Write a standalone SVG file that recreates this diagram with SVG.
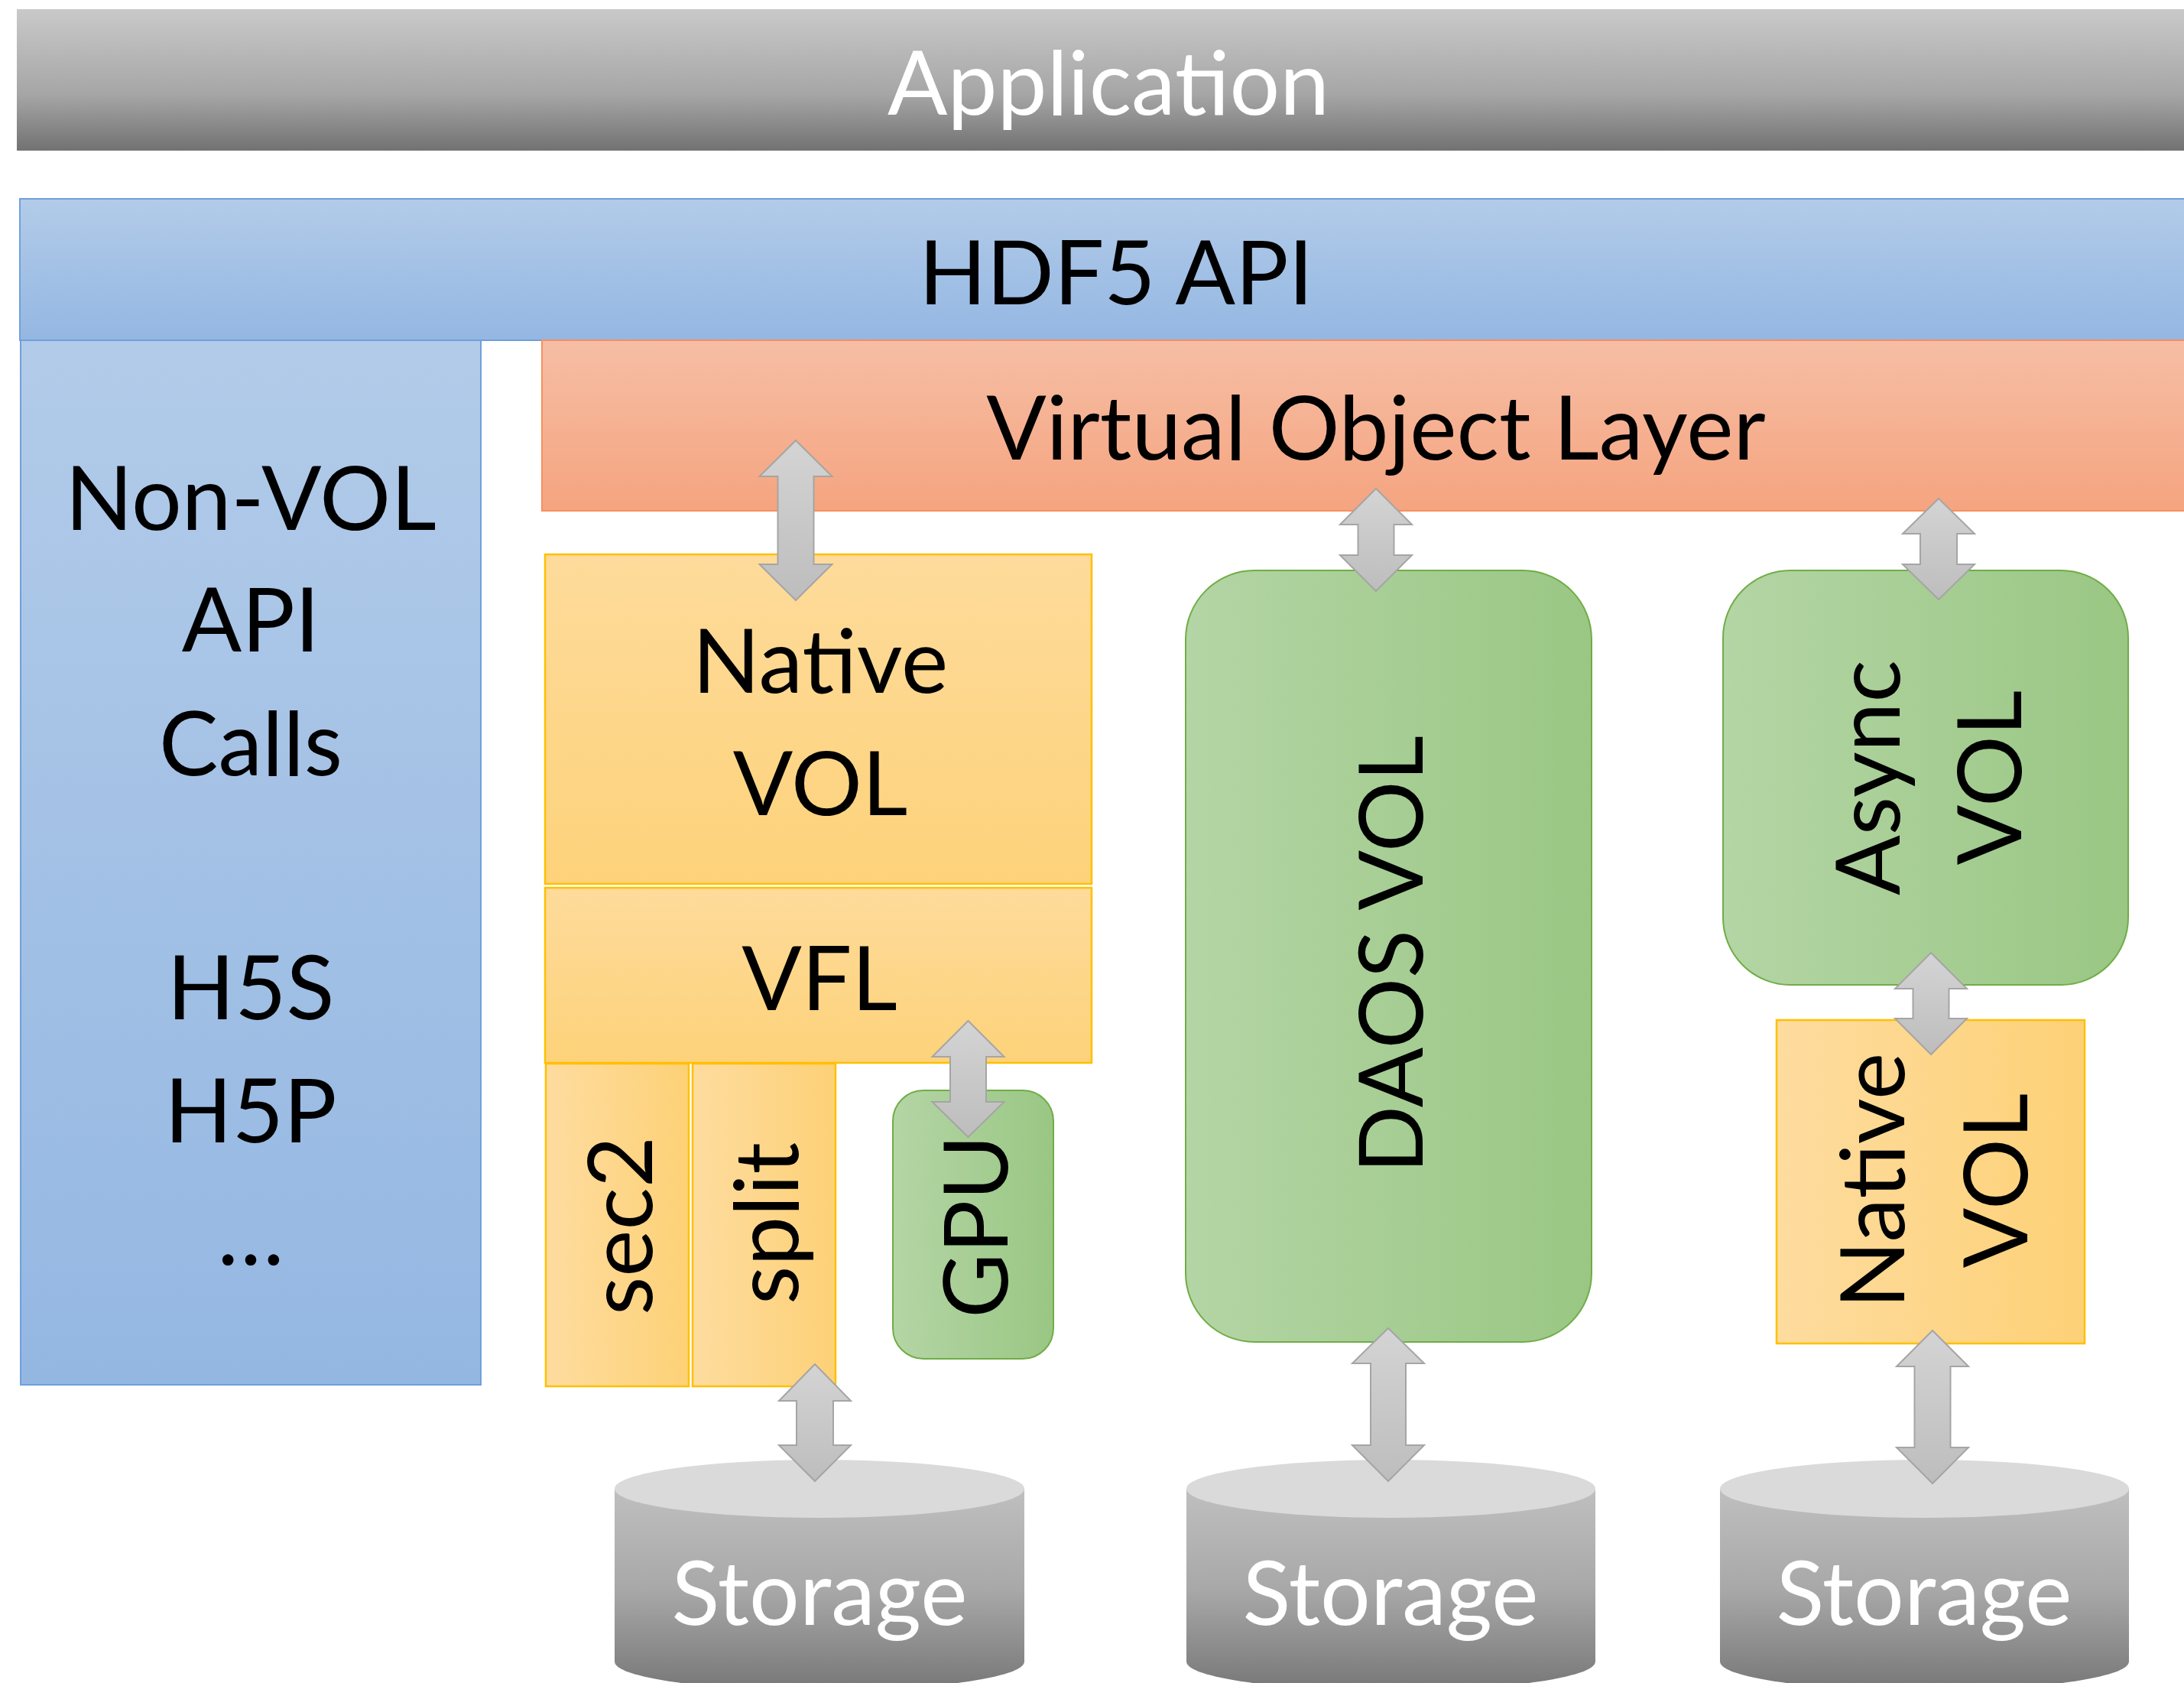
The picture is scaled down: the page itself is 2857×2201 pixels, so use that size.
<svg xmlns="http://www.w3.org/2000/svg" width="2857" height="2201" viewBox="0 0 2857 2201">
<defs>
<linearGradient id="gApp" x1="0" y1="0" x2="0" y2="1"><stop offset="0" stop-color="#c9c9c9"/><stop offset="0.6" stop-color="#a6a6a6"/><stop offset="1" stop-color="#727272"/></linearGradient>
<linearGradient id="gBlue" x1="0" y1="0" x2="0" y2="1"><stop offset="0" stop-color="#b2cbe9"/><stop offset="1" stop-color="#94b7e2"/></linearGradient>
<linearGradient id="gVol" x1="0" y1="0" x2="0" y2="1"><stop offset="0" stop-color="#f6bea5"/><stop offset="1" stop-color="#f5a47f"/></linearGradient>
<linearGradient id="gOrV" x1="0" y1="0" x2="0" y2="1"><stop offset="0" stop-color="#fedb9b"/><stop offset="1" stop-color="#fdd27a"/></linearGradient>
<linearGradient id="gOrH" x1="0" y1="0" x2="1" y2="0"><stop offset="0" stop-color="#fedc9f"/><stop offset="1" stop-color="#fdd177"/></linearGradient>
<linearGradient id="gGreen" x1="0" y1="0" x2="1" y2="0"><stop offset="0" stop-color="#b4d5a5"/><stop offset="1" stop-color="#9ac784"/></linearGradient>
<linearGradient id="gArrow" x1="0" y1="0" x2="0" y2="1"><stop offset="0" stop-color="#d4d4d4"/><stop offset="1" stop-color="#bdbdbd"/></linearGradient>
<linearGradient id="gStor" x1="0" y1="0" x2="0" y2="1"><stop offset="0" stop-color="#bfbfbf"/><stop offset="0.5" stop-color="#a8a8a8"/><stop offset="1" stop-color="#777777"/></linearGradient>
</defs>
<style>
text{font-family:Lato,"Liberation Sans",sans-serif;font-size:116px;fill:#000;text-anchor:middle}
.w{fill:#fff}
.blue{fill:url(#gBlue);stroke:#6fa0dc;stroke-width:2}
.orv{fill:url(#gOrV);stroke:#ffc000;stroke-width:2.5}
.orh{fill:url(#gOrH);stroke:#ffc000;stroke-width:2.5}
.green{fill:url(#gGreen);stroke:#70ad47;stroke-width:2}
.arrow{fill:url(#gArrow);stroke:#a5a5a5;stroke-width:2}
.stor{fill:url(#gStor)}
.stop{fill:#dadada}
</style>
<g id="application"><rect x="22" y="12" width="2840" height="185" fill="url(#gApp)"/><text class="w" x="1450" y="150" font-size="118">Application</text></g>
<g id="hdf5-api"><rect class="blue" x="26" y="260" width="2840" height="185"/><text x="1460" y="398">HDF5 API</text></g>
<g id="non-vol"><rect class="blue" x="27" y="445" width="602" height="1366"/>
<text x="328" y="693">Non-VOL</text><text x="328" y="852">API</text><text x="328" y="1014">Calls</text>
<text x="328" y="1333">H5S</text><text x="328" y="1494">H5P</text><text x="328" y="1654">…</text></g>
<g id="vol"><rect x="709" y="445" width="2160" height="223" fill="url(#gVol)" stroke="#f4915f" stroke-width="2"/><text x="1800" y="601">Virtual Object Layer</text></g>
<g id="native-vol"><rect class="orv" x="713" y="725" width="715" height="431"/><text x="1073" y="906">Native</text><text x="1073" y="1066">VOL</text></g>
<g id="vfl"><rect class="orv" x="713" y="1161" width="715" height="229"/><text x="1072" y="1321">VFL</text></g>
<g id="sec2"><rect class="orh" x="714" y="1391" width="187" height="422"/><text transform="translate(853,1603) rotate(-90)">sec2</text></g>
<g id="split"><rect class="orh" x="906" y="1391" width="187" height="422"/><text transform="translate(1044,1600) rotate(-90)">split</text></g>
<g id="gpu"><rect class="green" x="1168" y="1426" width="210" height="351" rx="40"/><text transform="translate(1318,1604) rotate(-90)">GPU</text></g>
<g id="daos-vol"><rect class="green" x="1551" y="746" width="531" height="1009" rx="90"/><text transform="translate(1861,1248) rotate(-90)">DAOS VOL</text></g>
<g id="async-vol"><rect class="green" x="2254" y="746" width="530" height="542" rx="88"/><text transform="translate(2485,1017) rotate(-90)">Async</text><text transform="translate(2644,1017) rotate(-90)">VOL</text></g>
<g id="native-vol-2"><rect class="orh" x="2324" y="1334" width="403" height="423"/><text transform="translate(2491,1544) rotate(-90)">Native</text><text transform="translate(2652,1544) rotate(-90)">VOL</text></g>
<g id="storage-1"><path class="stor" d="M804,1947 L804,2173 A268,38 0 0 0 1340,2173 L1340,1947 Z"/><ellipse class="stop" cx="1072" cy="1947" rx="268" ry="38"/><text class="w" x="1072" y="2125">Storage</text></g>
<g id="storage-2"><path class="stor" d="M1552,1947 L1552,2173 A267.5,38 0 0 0 2087,2173 L2087,1947 Z"/><ellipse class="stop" cx="1819.5" cy="1947" rx="267.5" ry="38"/><text class="w" x="1819" y="2125">Storage</text></g>
<g id="storage-3"><path class="stor" d="M2250,1947 L2250,2173 A267.5,38 0 0 0 2785,2173 L2785,1947 Z"/><ellipse class="stop" cx="2517.5" cy="1947" rx="267.5" ry="38"/><text class="w" x="2517" y="2125">Storage</text></g>
<g id="connectors">
<path class="arrow" d="M1041,576 L1088.5,623 L1064.5,623 L1064.5,738 L1088.5,738 L1041,785 L993.5,738 L1017.5,738 L1017.5,623 L993.5,623 Z"/>
<path class="arrow" d="M1800,639 L1847,686 L1823.5,686 L1823.5,726 L1847,726 L1800,773 L1753,726 L1776.5,726 L1776.5,686 L1753,686 Z"/>
<path class="arrow" d="M2536,652 L2583,698 L2560,698 L2560,738 L2583,738 L2536,784 L2489,738 L2512,738 L2512,698 L2489,698 Z"/>
<path class="arrow" d="M2526,1246 L2573,1293 L2549.5,1293 L2549.5,1332 L2573,1332 L2526,1379 L2479,1332 L2502.5,1332 L2502.5,1293 L2479,1293 Z"/>
<path class="arrow" d="M1066,1784 L1113,1832 L1090,1832 L1090,1890 L1113,1890 L1066,1937 L1019,1890 L1042,1890 L1042,1832 L1019,1832 Z"/>
<path class="arrow" d="M1266.5,1335 L1313.5,1382 L1290,1382 L1290,1441 L1313.5,1441 L1266.5,1487 L1219.5,1441 L1243,1441 L1243,1382 L1219.5,1382 Z"/>
<path class="arrow" d="M1816,1737 L1863,1783 L1839,1783 L1839,1890 L1863,1890 L1816,1937 L1769,1890 L1793,1890 L1793,1783 L1769,1783 Z"/>
<path class="arrow" d="M2528,1740 L2575,1787 L2551.5,1787 L2551.5,1893 L2575,1893 L2528,1940 L2481,1893 L2504.5,1893 L2504.5,1787 L2481,1787 Z"/>
</g>
</svg>
